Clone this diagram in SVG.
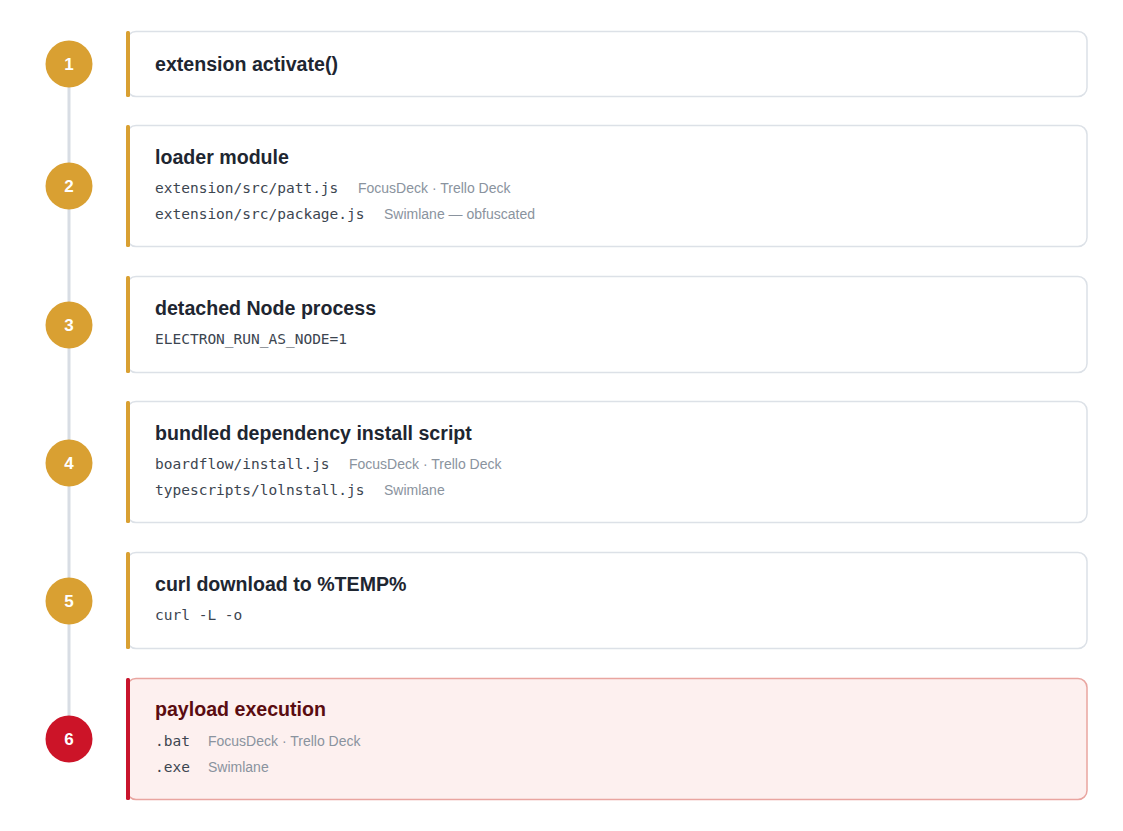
<svg xmlns="http://www.w3.org/2000/svg" width="1123" height="831" viewBox="0 0 1123 831">
<style>
.card{fill:#ffffff;stroke:#dce1e7;stroke-width:1.5}
.card-red{fill:#fdf0ef;stroke:#e9a5a0;stroke-width:1.5}
.bar{fill:#d9a032}
.bar-red{fill:#c8142c}
.dot{fill:#d9a032}
.dot-red{fill:#cc1428}
.num{font-family:"Liberation Sans",Arial,sans-serif;font-weight:bold;font-size:17px;fill:#ffffff;text-anchor:middle}
.title{font-family:"Liberation Sans",Arial,sans-serif;font-weight:bold;font-size:19.6px;fill:#1e2631}
.title-red{font-family:"Liberation Sans",Arial,sans-serif;font-weight:bold;font-size:19.6px;fill:#5a0c10}
.code{font-family:"DejaVu Sans Mono",monospace;font-size:14.5px;fill:#3c4550}
.note{font-family:"Liberation Sans",Arial,sans-serif;font-size:14px;fill:#8a939e}
</style>
<rect width="1123" height="831" fill="#ffffff"/>
<g id="connectors">
<line x1="69" y1="64" x2="69" y2="739" stroke="#d8dde4" stroke-width="3"/>
</g>
<g id="step1">
<rect class="card" x="127" y="31.5" width="960" height="65" rx="9"/>
<rect class="bar" x="126" y="31" width="4" height="66" rx="1.5"/>
<circle class="dot" cx="69" cy="64" r="23.5"/>
<text class="num" x="69" y="70">1</text>
<text class="title" x="155" y="71">extension activate()</text>
</g>
<g id="step2">
<rect class="card" x="127" y="125.5" width="960" height="121" rx="9"/>
<rect class="bar" x="126" y="125" width="4" height="122" rx="1.5"/>
<circle class="dot" cx="69" cy="186" r="23.5"/>
<text class="num" x="69" y="192">2</text>
<text class="title" x="155" y="164">loader module</text>
<text class="code" x="155" y="193">extension/src/patt.js</text>
<text class="note" x="358" y="193">FocusDeck · Trello Deck</text>
<text class="code" x="155" y="219">extension/src/package.js</text>
<text class="note" x="384" y="219">Swimlane — obfuscated</text>
</g>
<g id="step3">
<rect class="card" x="127" y="276.5" width="960" height="96" rx="9"/>
<rect class="bar" x="126" y="276" width="4" height="97" rx="1.5"/>
<circle class="dot" cx="69" cy="325" r="23.5"/>
<text class="num" x="69" y="331">3</text>
<text class="title" x="155" y="315">detached Node process</text>
<text class="code" x="155" y="344">ELECTRON_RUN_AS_NODE=1</text>
</g>
<g id="step4">
<rect class="card" x="127" y="401.5" width="960" height="121" rx="9"/>
<rect class="bar" x="126" y="401" width="4" height="122" rx="1.5"/>
<circle class="dot" cx="69" cy="463" r="23.5"/>
<text class="num" x="69" y="469">4</text>
<text class="title" x="155" y="440">bundled dependency install script</text>
<text class="code" x="155" y="469">boardflow/install.js</text>
<text class="note" x="349" y="469">FocusDeck · Trello Deck</text>
<text class="code" x="155" y="495">typescripts/lolnstall.js</text>
<text class="note" x="384" y="495">Swimlane</text>
</g>
<g id="step5">
<rect class="card" x="127" y="552.5" width="960" height="96" rx="9"/>
<rect class="bar" x="126" y="552" width="4" height="97" rx="1.5"/>
<circle class="dot" cx="69" cy="601" r="23.5"/>
<text class="num" x="69" y="607">5</text>
<text class="title" x="155" y="591">curl download to %TEMP%</text>
<text class="code" x="155" y="620">curl -L -o</text>
</g>
<g id="step6">
<rect class="card-red" x="127" y="678.5" width="960" height="121" rx="9"/>
<rect class="bar-red" x="126" y="678" width="4" height="122" rx="1.5"/>
<circle class="dot-red" cx="69" cy="739" r="23.5"/>
<text class="num" x="69" y="745">6</text>
<text class="title-red" x="155" y="716">payload execution</text>
<text class="code" x="155" y="746">.bat</text>
<text class="note" x="208" y="746">FocusDeck · Trello Deck</text>
<text class="code" x="155" y="772">.exe</text>
<text class="note" x="208" y="772">Swimlane</text>
</g>
</svg>
